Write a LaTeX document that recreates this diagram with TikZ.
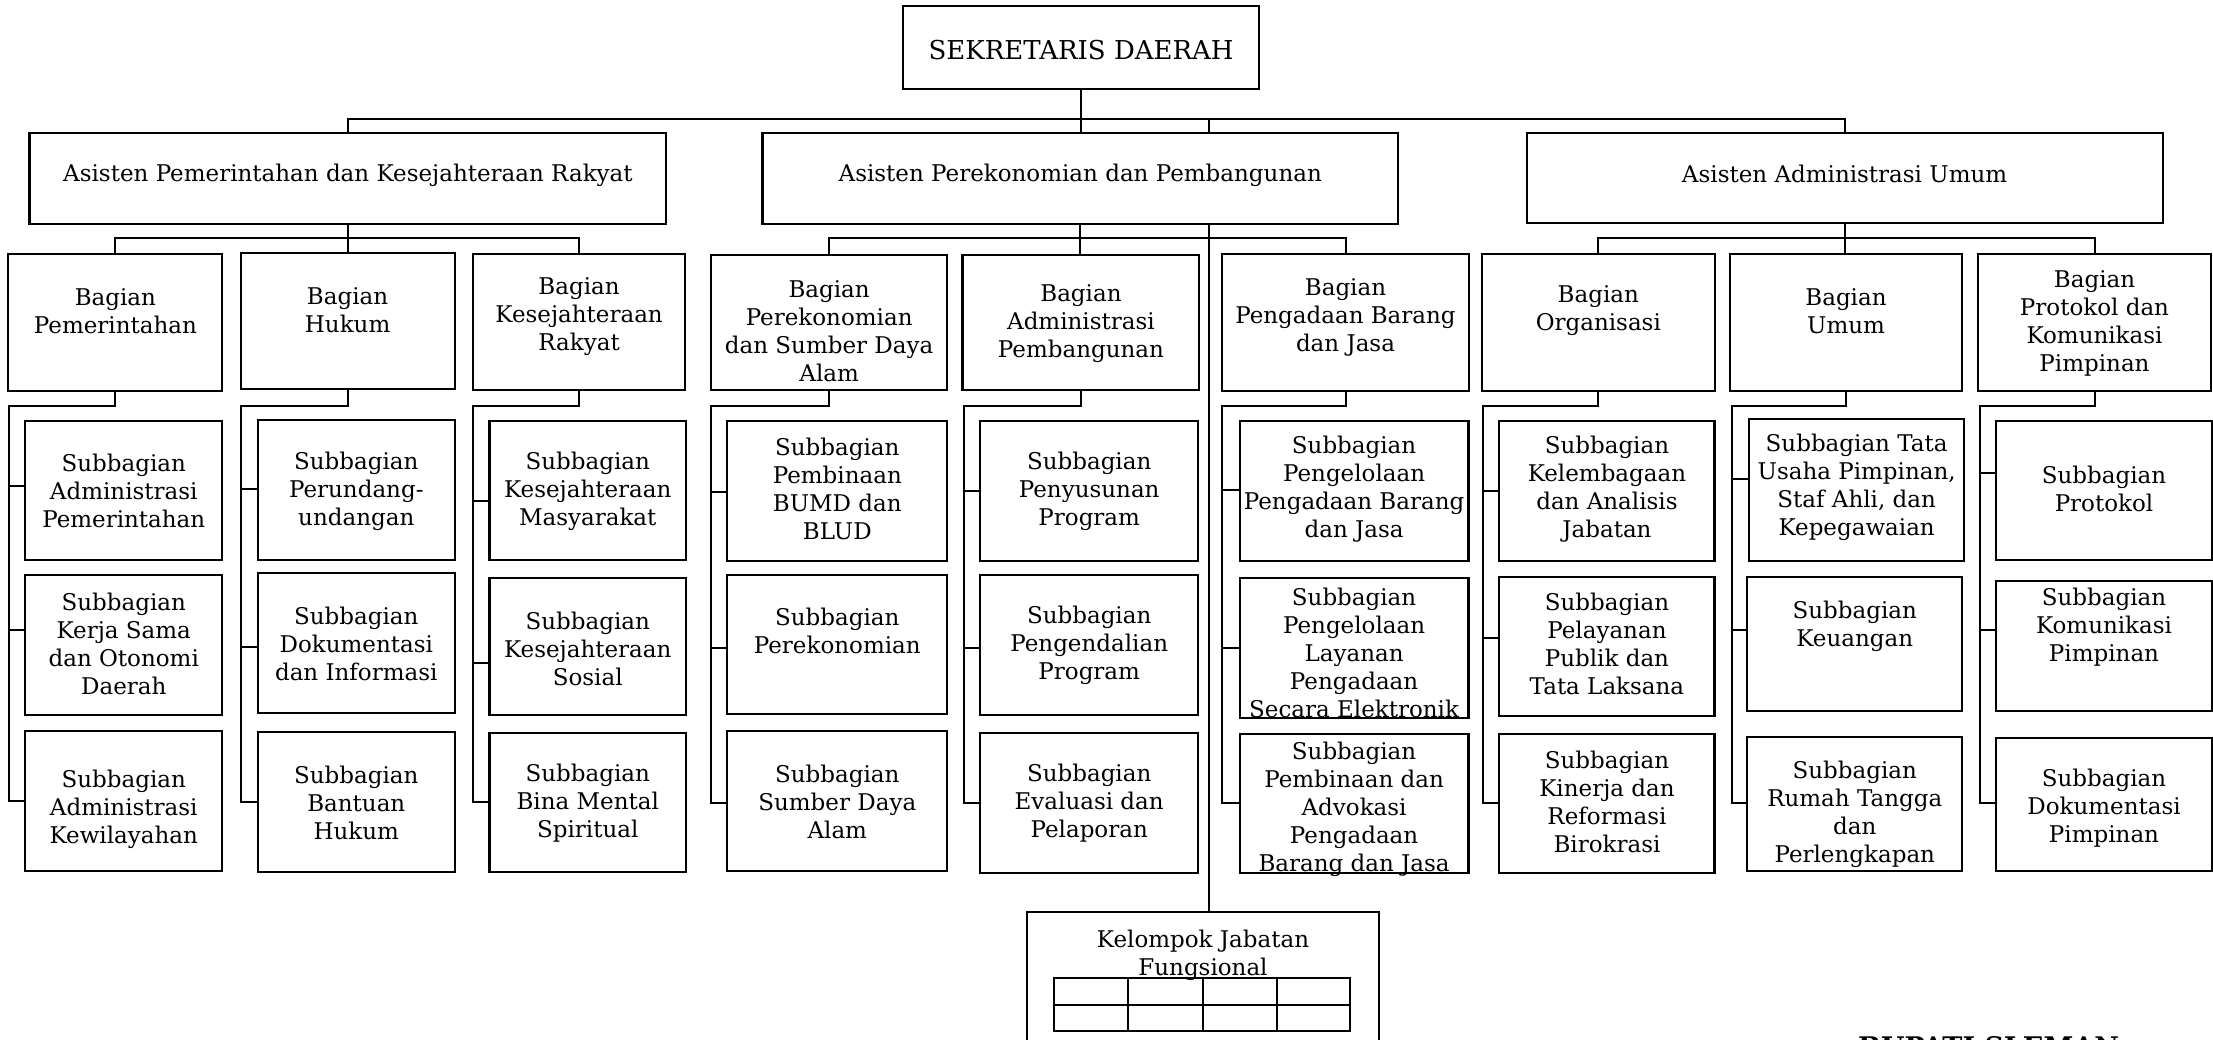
\documentclass[tikz,border=0pt]{standalone}
\usepackage{fontspec}
\setmainfont{DejaVu Serif}
\tikzset{
  boxst/.style={draw, line width=2.1pt, fill=white, inner sep=0pt, outer sep=0pt},
  txt/.style={align=center, inner sep=0pt, font=\fontsize{23}{28}\selectfont},
  conn/.style={line width=2pt},
}
\newcommand{\mybox}[7]{%
  \node[boxst, minimum width={#4-#2}, minimum height={#5-#3}] (#1) at ({(#2+#4)/2},{(#3+#5)/2}) {};
  \node[txt] (#1t) at ({(#2+#4)/2},{#6+2}) {#7};}
\newcommand{\comb}[8]{%
  \draw[conn] (#1.south) |- (#2,406) -- (#2,#8) -- (#7.west |- 0,#8);
  \draw[conn] (#2,#4) -- (#3.west |- 0,#4);
  \draw[conn] (#2,#6) -- (#5.west |- 0,#6);}
\begin{document}
\begin{tikzpicture}[x=1pt,y=-1pt]
\useasboundingbox (0,0) rectangle (2213,1040);
% Kelompok Jabatan Fungsional
\node[boxst, minimum width=352, minimum height=150] (kjf) at (1203,987.3) {};
\node[txt] (kjft) at (1203,955) {Kelompok Jabatan\\Fungsional};
\draw[conn] (1054,977.7) rectangle (1350.4,1031);
\draw[conn] (1054,1005) -- (1350.4,1005);
\foreach \cx in {1128.4,1202.7,1277} \draw[conn] (\cx,977.7) -- (\cx,1031);
\coordinate (fj) at (1209,119.3);
\draw[conn] (fj) -- (fj |- kjf.north);
% Sekretaris
\node[boxst, minimum width=355.7, minimum height=83.3] (sekda) at (1081.15,47.65) {};
\node[txt, font=\fontsize{26}{30}\selectfont] (sekdat) at (1081.15,50) {SEKRETARIS DAERAH};
% Asisten
\mybox{a1}{29.5}{133.3}{666.4}{224}{173.3}{Asisten Pemerintahan dan Kesejahteraan Rakyat}
\mybox{a2}{762.5}{133.3}{1398}{224}{173.3}{Asisten Perekonomian dan Pembangunan}
\mybox{a3}{1526.6}{132.7}{2162.6}{223.3}{171.7}{Asisten Administrasi Umum}
\draw[conn] (sekda.south) -- (sekda.south |- a2.north);
\draw[conn] (a1.north) -- (a1.north |- 0,119.3) -- (a3.north |- 0,119.3) -- (a3.north);
% Bagian
\mybox{b1}{8.4}{254.3}{222.4}{390.7}{309}{Bagian\\Pemerintahan}
\mybox{b2}{240.6}{253.3}{454.6}{389.3}{308}{Bagian\\Hukum}
\mybox{b3}{472.8}{254}{685.4}{390}{314.8}{Bagian\\Kesejahteraan\\Rakyat}
\mybox{b4}{711.3}{255}{947}{390}{329.3}{Bagian\\Perekonomian\\dan Sumber Daya\\Alam}
\mybox{b5}{962.5}{255}{1199.4}{390}{322}{Bagian\\Administrasi\\Pembangunan}
\mybox{b6}{1222}{254}{1469}{390.7}{315.2}{Bagian\\Pengadaan Barang\\dan Jasa}
\mybox{b7}{1481.9}{254}{1714.7}{390.7}{309}{Bagian\\Organisasi}
\mybox{b8}{1729.6}{254}{1962.4}{390.7}{309}{Bagian\\Umum}
\mybox{b9}{1978}{254}{2211}{390.7}{321}{Bagian\\Protokol dan\\Komunikasi\\Pimpinan}
\draw[conn] (a1.south) -- (a1.south |- b2.north);
\draw[conn] (b1.north) -- (b1.north |- 0,238.3) -- (b3.north |- 0,238.3) -- (b3.north);
\draw[conn] (a2.south) -- (a2.south |- b5.north);
\draw[conn] (b4.north) -- (b4.north |- 0,238.3) -- (b6.north |- 0,238.3) -- (b6.north);
\draw[conn] (a3.south) -- (a3.south |- b8.north);
\draw[conn] (b7.north) -- (b7.north |- 0,238.3) -- (b9.north |- 0,238.3) -- (b9.north);
% Subbagian
\mybox{s11}{25.3}{421}{222.2}{560}{489.3}{Subbagian\\Administrasi\\Pemerintahan}
\mybox{s12}{25.3}{575}{222.2}{715}{641.7}{Subbagian\\Kerja Sama\\dan Otonomi\\Daerah}
\mybox{s13}{25.3}{731}{222.2}{871}{807.7}{Subbagian\\Administrasi\\Kewilayahan}
\mybox{s21}{258}{420}{454.6}{560}{489}{Subbagian\\Perundang-\\undangan}
\mybox{s22}{258}{573.3}{454.6}{713.3}{642.3}{Subbagian\\Dokumentasi\\dan Informasi}
\mybox{s23}{258}{732}{454.6}{872}{800.7}{Subbagian\\Bantuan\\Hukum}
\mybox{s31}{489.5}{420.7}{686}{560}{489.3}{Subbagian\\Kesejahteraan\\Masyarakat}
\mybox{s32}{489.5}{578.3}{686}{715}{646.7}{Subbagian\\Kesejahteraan\\Sosial}
\mybox{s33}{489.5}{733.3}{686}{871.7}{801}{Subbagian\\Bina Mental\\Spiritual}
\mybox{s41}{727.4}{421}{947.2}{561}{487.2}{Subbagian\\Pembinaan\\BUMD dan\\BLUD}
\mybox{s42}{727.4}{575}{947.2}{714.3}{629.2}{Subbagian\\Perekonomian}
\mybox{s43}{727.4}{731}{947.2}{871}{800}{Subbagian\\Sumber Daya\\Alam}
\mybox{s51}{980}{421}{1198.4}{561}{489.7}{Subbagian\\Penyusunan\\Program}
\mybox{s52}{980}{575}{1198.4}{715}{643.3}{Subbagian\\Pengendalian\\Program}
\mybox{s53}{980}{733.3}{1198.4}{872.7}{801}{Subbagian\\Evaluasi dan\\Pelaporan}
\mybox{s61}{1239.7}{421}{1468.5}{561}{487.2}{Subbagian\\Pengelolaan\\Pengadaan Barang\\dan Jasa}
\mybox{s62}{1239.7}{578.3}{1468.5}{718.3}{651}{Subbagian\\Pengelolaan\\Layanan\\Pengadaan\\Secara Elektronik}
\mybox{s63}{1239.7}{734}{1468.5}{873.3}{806.9}{Subbagian\\Pembinaan dan\\Advokasi\\Pengadaan\\Barang dan Jasa}
\mybox{s71}{1499.4}{421}{1714.5}{561}{487}{Subbagian\\Kelembagaan\\dan Analisis\\Jabatan}
\mybox{s72}{1499.4}{576.7}{1714.5}{716}{642.2}{Subbagian\\Pelayanan\\Publik dan\\Tata Laksana}
\mybox{s73}{1499.4}{734}{1714.5}{873.3}{800}{Subbagian\\Kinerja dan\\Reformasi\\Birokrasi}
\mybox{s81}{1749}{419.3}{1964.3}{561}{485.8}{Subbagian Tata\\Usaha Pimpinan,\\Staf Ahli, dan\\Kepegawaian}
\mybox{s82}{1747.2}{576.7}{1962.3}{711}{624}{Subbagian\\Keuangan}
\mybox{s83}{1747.2}{737.3}{1962.3}{871}{812}{Subbagian\\Rumah Tangga\\dan\\Perlengkapan}
\mybox{s91}{1996.4}{421}{2211.6}{560}{487}{Subbagian\\Protokol}
\mybox{s92}{1996.4}{581}{2211.6}{711}{625}{Subbagian\\Komunikasi\\Pimpinan}
\mybox{s93}{1996.4}{737.7}{2211.6}{871}{806}{Subbagian\\Dokumentasi\\Pimpinan}
% combs
\comb{b1}{9.2}{s11}{486}{s12}{630}{s13}{800.7}
\comb{b2}{241}{s21}{489.3}{s22}{647.3}{s23}{801.7}
\comb{b3}{473}{s31}{500.7}{s32}{663.3}{s33}{802}
\comb{b4}{711}{s41}{491.7}{s42}{648.3}{s43}{802.7}
\comb{b5}{963.6}{s51}{491}{s52}{648.3}{s53}{802.7}
\comb{b6}{1222.3}{s61}{490}{s62}{647.7}{s63}{803.3}
\comb{b7}{1482.6}{s71}{490.7}{s72}{638.3}{s73}{802.7}
\comb{b8}{1732.3}{s81}{479.3}{s82}{630}{s83}{802.7}
\comb{b9}{1980}{s91}{473.3}{s92}{630}{s93}{802.7}
% cut-off title
\node[anchor=base west, inner sep=0pt, font=\fontsize{27}{30}\selectfont\bfseries] (bup) at (1858,1056) {BUPATI SLEMAN};
\end{tikzpicture}
\end{document}
